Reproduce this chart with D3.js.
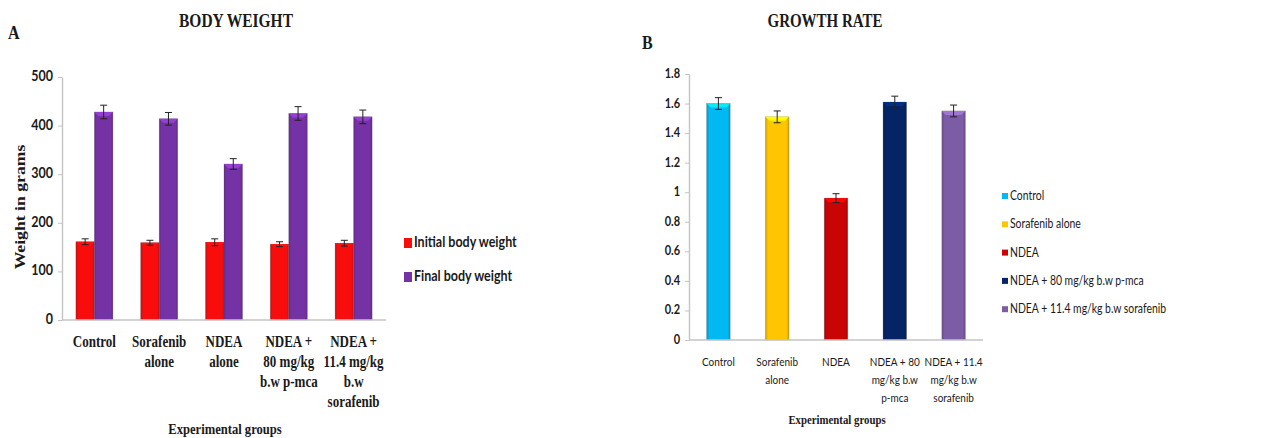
<!DOCTYPE html>
<html lang="en">
<head>
<meta charset="utf-8">
<title>Body weight and growth rate</title>
<script src="https://cdnjs.cloudflare.com/ajax/libs/d3/7.8.5/d3.min.js"></script>
<style>
  body { margin: 0; background: #fff; }
  svg { display: block; }
</style>
</head>
<body>
<script>
// ---- data ----
var groupsA = [["Control"], ["Sorafenib", "alone"], ["NDEA", "alone"],
               ["NDEA +", "80 mg/kg", "b.w p-mca"], ["NDEA +", "11.4 mg/kg", "b.w", "sorafenib"]];
var seriesA = ["Initial body weight", "Final body weight"];
var initialWeight = [161, 159, 160, 156, 158];
var initialErr = [6, 5, 7, 5, 6];
var finalWeight = [428, 414, 321, 425, 418];
var finalErr = [14, 13, 11, 14, 14];
var ticksA = [0, 100, 200, 300, 400, 500];

var groupsB = [["Control"], ["Sorafenib", "alone"], ["NDEA"],
               ["NDEA + 80", "mg/kg b.w", "p-mca"], ["NDEA + 11.4", "mg/kg b.w", "sorafenib"]];
var legendB = ["Control", "Sorafenib alone", "NDEA", "NDEA + 80 mg/kg b.w p-mca", "NDEA + 11.4 mg/kg b.w sorafenib"];
var growthRate = [1.60, 1.51, 0.96, 1.61, 1.55];
var growthErr = [0.04, 0.04, 0.03, 0.04, 0.04];
var ticksB = [0, 0.2, 0.4, 0.6, 0.8, 1, 1.2, 1.4, 1.6, 1.8];

var colorsA = ["#f80c0c", "#7432a4"];
var colorsB = ["#00b9f2", "#ffc600", "#c80404", "#042466", "#7d5ca6"];

var W = 1270, H = 438;
var SY = 1.22;  // the picture is slightly stretched vertically
var serif = "'Liberation Serif', 'Times New Roman', serif";
var sans = "Lato, 'Noto Sans', sans-serif";

var svg = d3.select("body").append("svg").attr("width", W).attr("height", H);
var defs = svg.append("defs");

function label(g, x, y, txt, size, font, weight, anchor, rot) {
  var t = g.append("text")
    .attr("transform", "translate(" + x + "," + y + ") scale(1," + SY + ")" + (rot ? " rotate(" + rot + ")" : ""))
    .attr("font-family", font)
    .attr("font-size", size)
    .attr("font-weight", weight)
    .attr("text-anchor", anchor || "start")
    .attr("fill", "#1a1a1a")
    .text(txt);
  return t;
}

function gradient(id, c) {
  var base = d3.color(c);
  var lg = defs.append("linearGradient").attr("id", id).attr("x1", 0).attr("x2", 1).attr("y1", 0).attr("y2", 0);
  lg.append("stop").attr("offset", "0%").attr("stop-color", base.darker(0.5));
  lg.append("stop").attr("offset", "12%").attr("stop-color", base);
  lg.append("stop").attr("offset", "88%").attr("stop-color", base);
  lg.append("stop").attr("offset", "100%").attr("stop-color", base.darker(0.5));
}

function bar(g, x, w, yTop, yBot, c, id) {
  g.append("rect").attr("x", x).attr("y", yTop).attr("width", w).attr("height", yBot - yTop)
    .attr("fill", "url(#" + id + ")").attr("stroke", "rgba(90,90,90,0.45)").attr("stroke-width", 0.6);
  var b = 4;
  g.append("path")
    .attr("d", "M" + x + "," + yTop + "h" + w + "l-" + b + "," + b + "h-" + (w - 2 * b) + "z")
    .attr("fill", d3.color(c).brighter(0.7));
}

function errBar(g, cx, y1, y2) {
  g.append("line").attr("x1", cx).attr("x2", cx).attr("y1", y1).attr("y2", y2).attr("stroke", "#222").attr("stroke-width", 1);
  [y1, y2].forEach(function(yy) {
    g.append("line").attr("x1", cx - 3.5).attr("x2", cx + 3.5).attr("y1", yy).attr("y2", yy).attr("stroke", "#222").attr("stroke-width", 1);
  });
}

function yAxis(g, x, y, ticks, fmt, size) {
  var ax = g.append("g").attr("transform", "translate(" + x + ",0)")
    .call(d3.axisLeft(y).tickValues(ticks).tickSize(4).tickSizeOuter(0).tickFormat(function() { return ""; }));
  ax.select(".domain").attr("stroke", "#c4c4c4").attr("stroke-width", 1.4);
  ax.selectAll(".tick line").attr("stroke", "#c4c4c4");
  ticks.forEach(function(v) {
    label(g, x - 9, y(v) + 4, fmt(v), size, sans, "bold", "end");
  });
}

// ================= Panel A =================
var gA = svg.append("g");
var xA = d3.scaleBand().domain(d3.range(5)).range([62, 386]);
var bwA = xA.bandwidth();
var xA1 = d3.scaleBand().domain([0, 1]).range([bwA * 0.75 / 3.5, bwA - bwA * 0.75 / 3.5]);
var yA = d3.scaleLinear().domain([0, 500]).range([320, 77]);

seriesA.forEach(function(s, i) { gradient("gA" + i, colorsA[i]); });
yAxis(gA, 62, yA, ticksA, function(v) { return String(v); }, 12.5);

var valsA = [initialWeight, finalWeight];
var errsA = [initialErr, finalErr];
valsA.forEach(function(vals, si) {
  vals.forEach(function(v, i) {
    var x = xA(i) + xA1(si);
    bar(gA, x, xA1.bandwidth(), yA(v), yA(0), colorsA[si], "gA" + si);
  });
});
valsA.forEach(function(vals, si) {
  vals.forEach(function(v, i) {
    var cx = xA(i) + xA1(si) + xA1.bandwidth() / 2;
    errBar(gA, cx, yA(v + errsA[si][i]), yA(v - errsA[si][i]));
  });
});
gA.append("line").attr("x1", 62).attr("x2", 386).attr("y1", yA(0)).attr("y2", yA(0))
  .attr("stroke", "#c4c4c4").attr("stroke-width", 1.4);

groupsA.forEach(function(lines, i) {
  lines.forEach(function(ln, k) {
    label(gA, xA(i) + bwA / 2, 347 + k * 20, ln, 13, serif, "bold", "middle");
  });
});

label(gA, 225, 434, "Experimental groups", 12.6, serif, "bold", "middle");
label(gA, 25, 207, "Weight in grams", 14.5, serif, "bold", "middle", -90);
label(gA, 236, 27, "BODY WEIGHT", 15.5, serif, "bold", "middle");
label(gA, 8, 39, "A", 16, serif, "bold", "start");

seriesA.forEach(function(s, i) {
  var cy = 243 + i * 34;
  gA.append("rect").attr("x", 404).attr("y", cy - 5).attr("width", 8).attr("height", 10).attr("fill", colorsA[i]);
  label(gA, 414, cy + 4, s, 12.5, sans, "bold", "start");
});

// ================= Panel B =================
var gB = svg.append("g");
var xB = d3.scaleBand().domain(d3.range(5)).range([689, 983]).paddingInner(0.6).paddingOuter(0.3);
var yB = d3.scaleLinear().domain([0, 1.8]).range([340, 74]);

colorsB.forEach(function(c, i) { gradient("gB" + i, c); });
yAxis(gB, 689, yB, ticksB, function(v) { return String(+v.toFixed(1)); }, 11);

growthRate.forEach(function(v, i) {
  bar(gB, xB(i), xB.bandwidth(), yB(v), yB(0), colorsB[i], "gB" + i);
});
growthRate.forEach(function(v, i) {
  errBar(gB, xB(i) + xB.bandwidth() / 2, yB(v + growthErr[i]), yB(v - growthErr[i]));
});
gB.append("line").attr("x1", 689).attr("x2", 983).attr("y1", yB(0)).attr("y2", yB(0))
  .attr("stroke", "#c4c4c4").attr("stroke-width", 1.4);

groupsB.forEach(function(lines, i) {
  lines.forEach(function(ln, k) {
    label(gB, xB(i) + xB.bandwidth() / 2, 366 + k * 18, ln, 10, sans, "normal", "middle");
  });
});

label(gB, 837, 424, "Experimental groups", 10.8, serif, "bold", "middle");
label(gB, 825, 27, "GROWTH RATE", 15, serif, "bold", "middle");
label(gB, 642, 49, "B", 16, serif, "bold", "start");

legendB.forEach(function(s, i) {
  var cy = 196 + i * 28.3;
  gB.append("rect").attr("x", 1002).attr("y", cy - 3).attr("width", 6).attr("height", 6).attr("fill", colorsB[i]);
  label(gB, 1010, cy + 4, s, 10.4, sans, "normal", "start");
});
</script>
</body>
</html>
